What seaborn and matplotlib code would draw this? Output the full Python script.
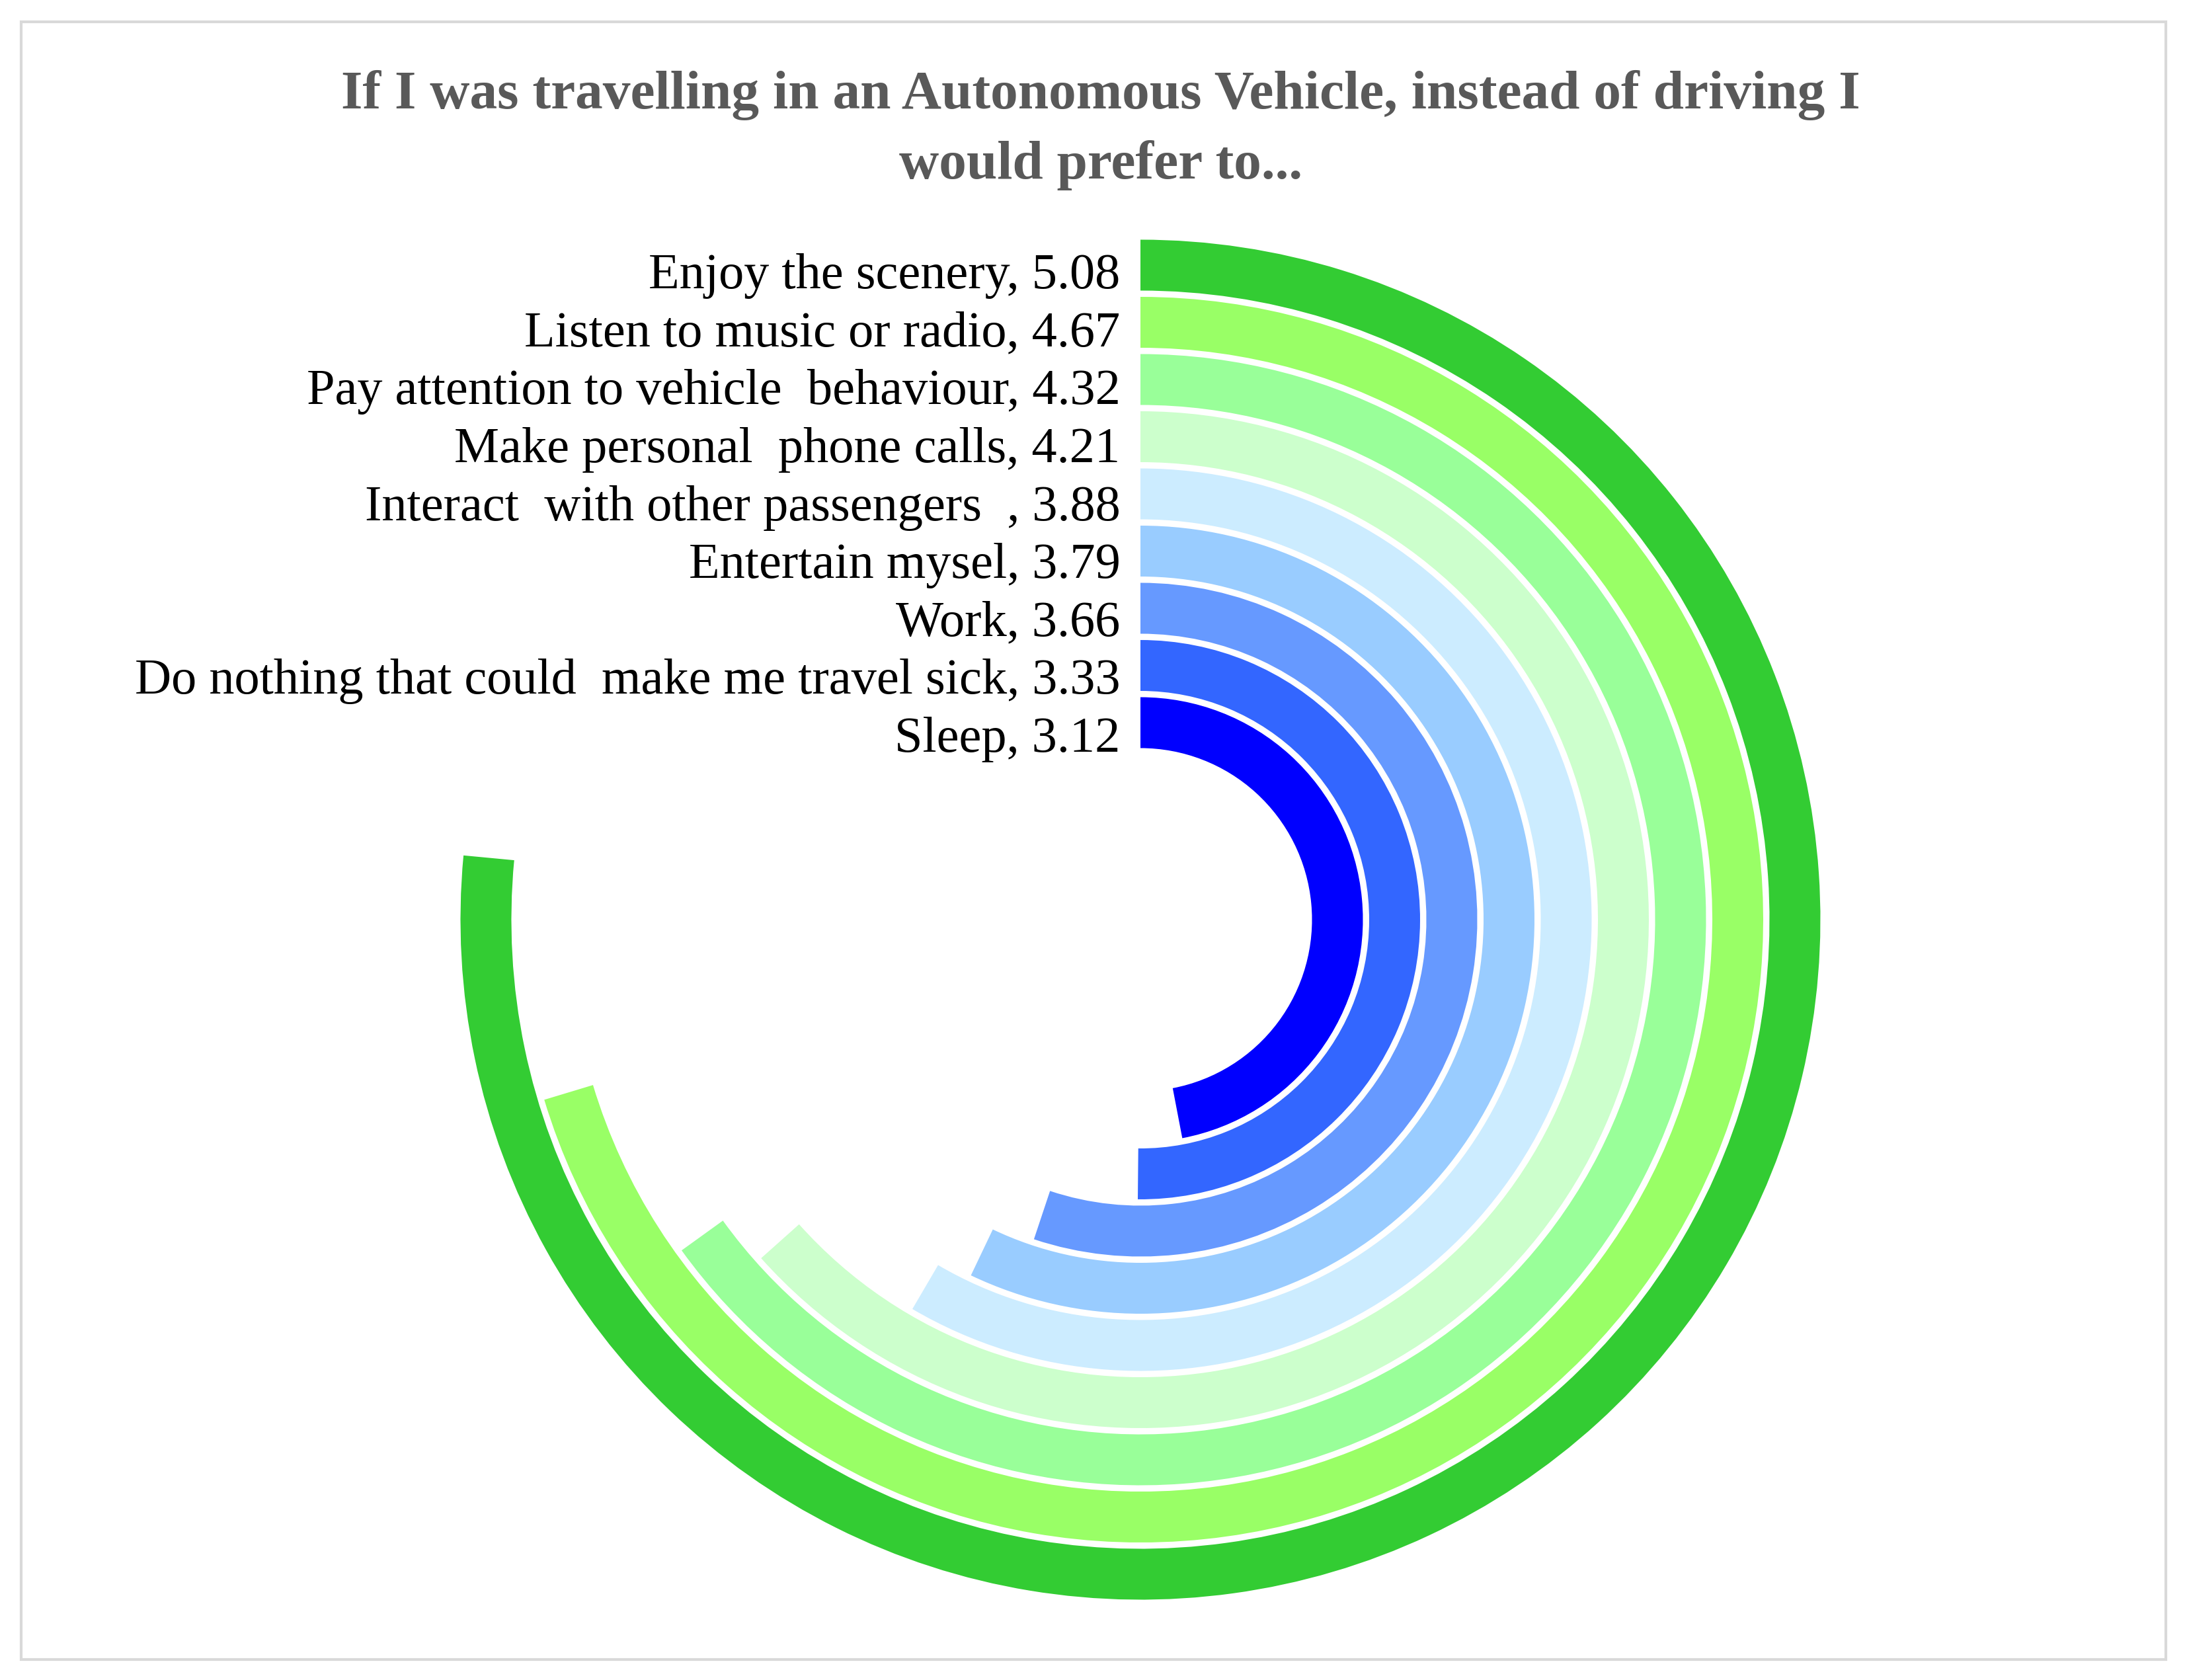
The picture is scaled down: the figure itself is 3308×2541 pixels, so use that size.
import numpy as np
import matplotlib.pyplot as plt
import matplotlib.transforms as mtransforms
from matplotlib.patches import Rectangle
import seaborn as sns

# data, outer ring first
activities = ["Enjoy the scenery", "Listen to music or radio", "Pay attention to vehicle  behaviour",
              "Make personal  phone calls", "Interact  with other passengers  ", "Entertain mysel",
              "Work", "Do nothing that could  make me travel sick", "Sleep"]
scores = [5.08, 4.67, 4.32, 4.21, 3.88, 3.79, 3.66, 3.33, 3.12]
ring_colors = ["#33CC33", "#99FF66", "#99FF99", "#CCFFCC", "#CCECFF",
               "#99CCFF", "#6699FF", "#3366FF", "#0000FF"]
full_turn = 6.64  # score that would close the circle

sns.set_theme(style="white")
plt.rcParams['font.family'] = ['Liberation Serif', 'DejaVu Serif']

W, H = 3308, 2541
fig = plt.figure(figsize=(W / 200, H / 200), dpi=200)

# polar axes placed so the rings sit where they are in the original
cx, cy, rad = 1725, 1391, 1038
ax = fig.add_axes([(cx - rad) / W, (H - cy - rad) / H, 2 * rad / W, 2 * rad / H], projection='polar')
ax.set_theta_zero_location('N')
ax.set_theta_direction(-1)

palette = sns.color_palette(ring_colors)
n = len(scores)
for i, (name, val) in enumerate(zip(activities, scores)):
    bottom = 3 + (n - 1 - i)
    span = val / full_turn * 2 * np.pi
    ax.bar(0, 0.89, width=span, bottom=bottom, align='edge', color=palette[i], linewidth=0)
    # labels sit just left of the 12 o'clock line, drifting down a little per row
    off = mtransforms.offset_copy(ax.transData, fig=fig, x=-11, y=-6 - 0.4 * i, units='points')
    ax.text(0, bottom + 0.445, f"{name}, {val:.2f}", transform=off, ha='right', va='center',
            fontsize=27.5, color='black')

ax.set_ylim(0, 12)
ax.set_xticks([])
ax.set_yticks([])
ax.grid(False)
ax.spines['polar'].set_visible(False)
ax.patch.set_alpha(0)

fig.text(1665 / W, 1 - 197 / H, "If I was travelling in an Autonomous Vehicle, instead of driving I\nwould prefer to...",
         ha='center', va='center', fontsize=30, fontweight='bold', color='#595959', linespacing=1.5)

fig.patches.append(Rectangle((32 / W, 1 - 2510 / H), (3276 - 32) / W, (2510 - 33) / H,
                             transform=fig.transFigure, fill=False, edgecolor='#D9D9D9', linewidth=1.5))

fig.savefig('out.png', dpi=200, facecolor='white')
